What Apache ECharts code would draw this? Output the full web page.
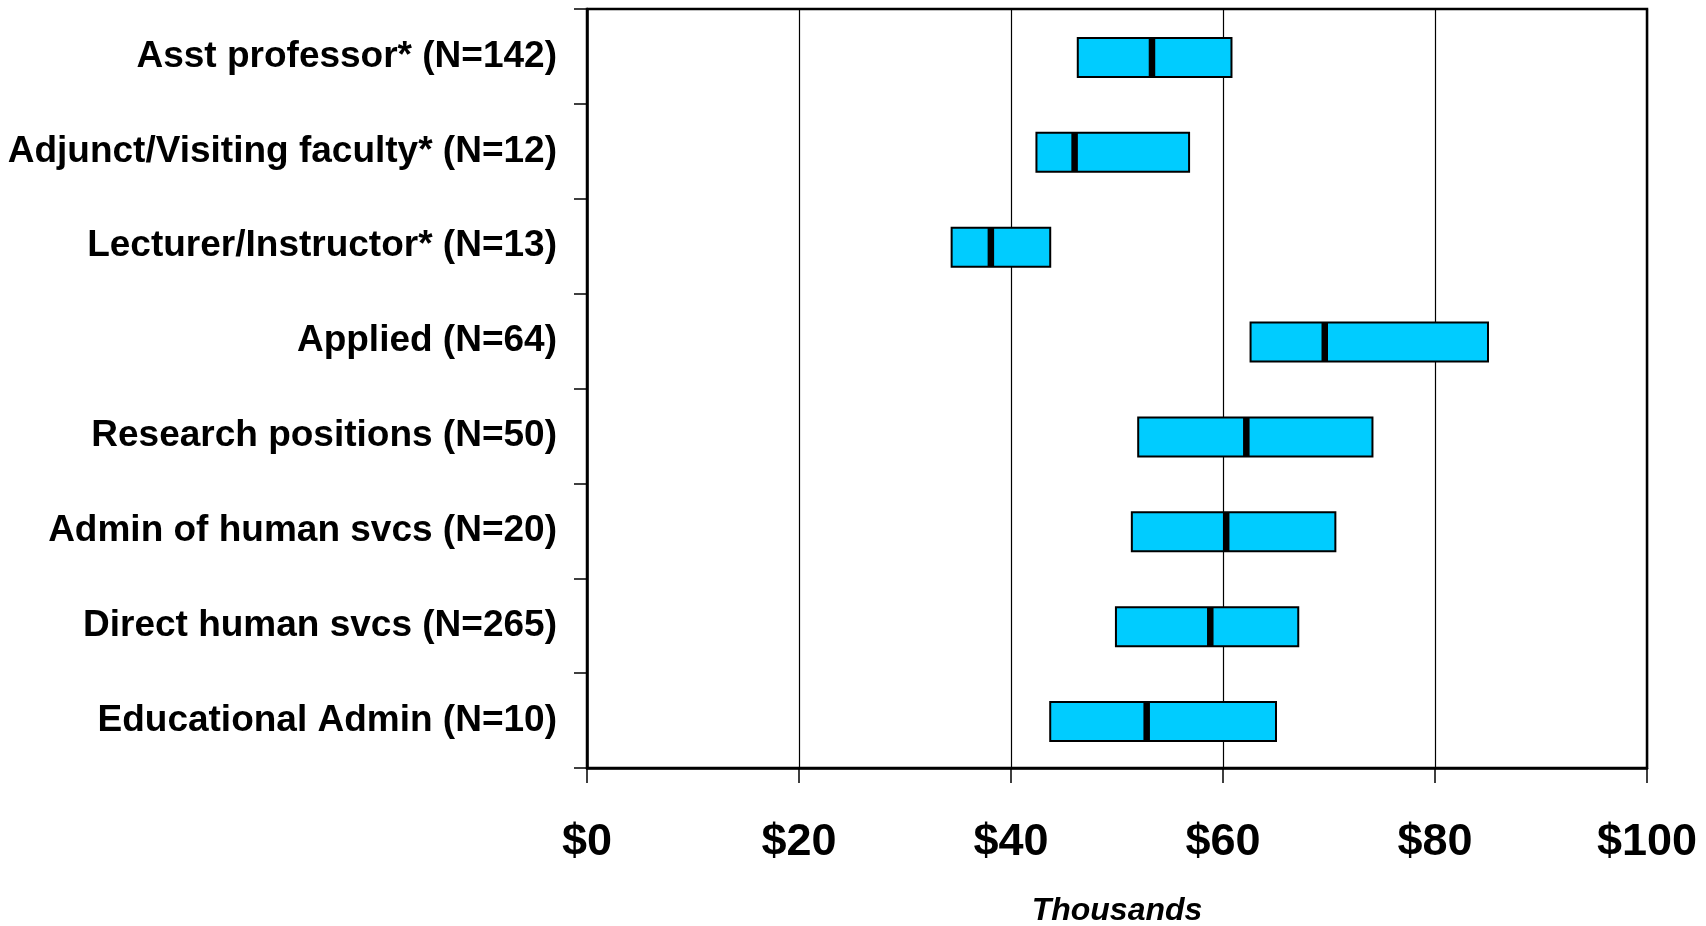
<!DOCTYPE html>
<html>
<head>
<meta charset="utf-8">
<script src="https://cdn.jsdelivr.net/npm/echarts@6/dist/echarts.min.js"></script>
<style>
html,body{margin:0;padding:0;background:#fff;}
#chart{width:1706px;height:926px;}
</style>
</head>
<body>
<div id="chart"></div>
<script>
const categories = [
  "Asst professor* (N=142)",
  "Adjunct/Visiting faculty* (N=12)",
  "Lecturer/Instructor* (N=13)",
  "Applied (N=64)",
  "Research positions (N=50)",
  "Admin of human svcs (N=20)",
  "Direct human svcs (N=265)",
  "Educational Admin (N=10)"
];
const lowValues    = [46.3, 42.4, 34.4, 62.6, 52.0, 51.4, 49.9, 43.7];
const medianValues = [53.3, 46.0, 38.1, 69.6, 62.2, 60.3, 58.8, 52.8];
const highValues   = [60.8, 56.8, 43.7, 85.0, 74.1, 70.6, 67.1, 65.0];
const xTicks = [0, 20, 40, 60, 80, 100];

const FONT = "'Liberation Sans', Arial, sans-serif";
const chart = echarts.init(document.getElementById('chart'), null, {renderer: 'canvas'});

const seriesData = categories.map((c, i) => [i, lowValues[i], medianValues[i], highValues[i]]);

chart.setOption({
  animation: false,
  backgroundColor: '#ffffff',
  grid: {
    left: 587, right: 59, top: 9, bottom: 158,
    containLabel: false,
    outerBoundsMode: 'none',
    show: true, borderColor: '#000', borderWidth: 2.5, backgroundColor: 'transparent'
  },
  xAxis: {
    type: 'value',
    min: xTicks[0], max: xTicks[xTicks.length - 1], interval: 20,
    axisLine: {show: true, lineStyle: {color: '#000', width: 2.5}},
    axisTick: {show: true, length: 15, lineStyle: {color: '#000', width: 1.5}},
    splitLine: {show: true, lineStyle: {color: '#000', width: 1.2}},
    axisLabel: {
      margin: 52, color: '#000', fontFamily: FONT, fontWeight: 'bold', fontSize: 45,
      formatter: v => '$' + v
    },
    name: 'Thousands',
    nameLocation: 'middle',
    nameGap: 127,
    nameTextStyle: {color: '#000', fontFamily: FONT, fontWeight: 'bold', fontStyle: 'italic', fontSize: 32}
  },
  yAxis: {
    type: 'category',
    data: categories,
    inverse: true,
    axisLine: {show: true, lineStyle: {color: '#000', width: 2.5}},
    axisTick: {show: true, length: 13, lineStyle: {color: '#000', width: 1.5}},
    splitLine: {show: false},
    axisLabel: {margin: 30, padding: [10, 0, 0, 0], color: '#000', fontFamily: FONT, fontWeight: 'bold', fontSize: 37}
  },
  series: [{
    type: 'custom',
    data: seriesData,
    encode: {y: 0, x: [1, 2, 3]},
    renderItem: function (params, api) {
      const cat = api.value(0);
      const pLow = api.coord([api.value(1), cat]);
      const pMed = api.coord([api.value(2), cat]);
      const pHigh = api.coord([api.value(3), cat]);
      const band = api.size([0, 1])[1];
      const h = band * 0.41;
      const top = pLow[1] - h / 2 + 1;
      return {
        type: 'group',
        children: [
          {
            type: 'rect',
            shape: {x: pLow[0], y: top, width: pHigh[0] - pLow[0], height: h},
            style: {fill: '#00CCFF', stroke: '#000', lineWidth: 2}
          },
          {
            type: 'rect',
            shape: {x: pMed[0] - 3.25, y: top, width: 6.5, height: h},
            style: {fill: '#000'}
          }
        ]
      };
    }
  }]
});
</script>
</body>
</html>
